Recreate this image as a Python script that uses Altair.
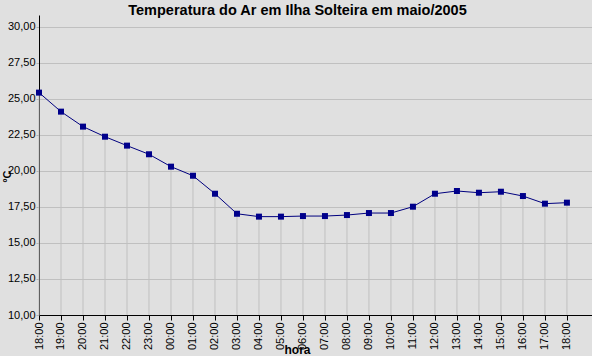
import altair as alt
import pandas as pd

hours = ["18:00", "19:00", "20:00", "21:00", "22:00", "23:00", "00:00", "01:00",
         "02:00", "03:00", "04:00", "05:00", "06:00", "07:00", "08:00", "09:00",
         "10:00", "11:00", "12:00", "13:00", "14:00", "15:00", "16:00", "17:00", "18:00"]
temps = [25.44, 24.12, 23.08, 22.38, 21.76, 21.16, 20.30, 19.67, 18.42, 17.03,
         16.83, 16.83, 16.87, 16.87, 16.94, 17.08, 17.08, 17.52, 18.42, 18.61,
         18.49, 18.56, 18.26, 17.73, 17.80]
y_ticks = [10, 12.5, 15, 17.5, 20, 22.5, 25, 27.5, 30]

df = pd.DataFrame({"i": list(range(len(hours))), "hora": hours, "temp": temps, "base": 10.0})

label_arr = "[" + ",".join("'" + h + "'" for h in hours) + "]"

FONT = "Liberation Sans"
x_scale = alt.Scale(domain=[0, 25.14], nice=False, zero=False)
y_scale = alt.Scale(domain=[10, 30.83], nice=False, zero=False)

x_axis = alt.Axis(values=list(range(len(hours))), labelExpr=label_arr + "[datum.value]",
                  labelAngle=270, labelAlign="right", labelBaseline="middle",
                  labelOverlap=False, labelBound=False, labelFlush=False,
                  labelFont=FONT, labelFontSize=11, labelColor="#000000", labelPadding=2,
                  tickColor="#000000", tickSize=5, domainColor="#000000", grid=False,
                  title="hora", titleFont=FONT, titleFontSize=12, titleFontWeight="bold",
                  titleColor="#000000", titleX=258, titleY=38, titleBaseline="alphabetic",
                  titleAnchor="start", titleAlign="center")
y_axis = alt.Axis(values=y_ticks, labelExpr="replace(format(datum.value, '.2f'), '.', ',')",
                  labelOverlap=False, labelBound=False, labelFlush=False,
                  labelFont=FONT, labelFontSize=11, labelColor="#000000", labelPadding=1,
                  tickColor="#b4b4b4", tickSize=3, domainColor="#000000",
                  grid=True, gridColor="#c0c0c0", gridWidth=1,
                  title="ºC", titleFont=FONT, titleFontSize=11, titleFontWeight="bold",
                  titleColor="#000000", titleAngle=270, titleX=-32, titleY=161,
                  titleAlign="center", titleBaseline="middle")

base = alt.Chart(df)

drops = base.mark_rule(color="#c0c0c0", strokeWidth=1).encode(
    x=alt.X("i:Q", scale=x_scale, axis=x_axis),
    y=alt.Y("base:Q", scale=y_scale, axis=y_axis),
    y2="temp:Q",
)
line = base.mark_line(color="#00007f", strokeWidth=1).encode(
    x=alt.X("i:Q", scale=x_scale, axis=x_axis),
    y=alt.Y("temp:Q", scale=y_scale, axis=y_axis),
)
pts = base.mark_square(color="#00008b", size=36, opacity=1).encode(
    x=alt.X("i:Q", scale=x_scale, axis=x_axis),
    y=alt.Y("temp:Q", scale=y_scale, axis=y_axis),
)

chart = alt.layer(drops, line, pts).properties(
    width=553, height=300,
    title=alt.TitleParams("Temperatura do Ar em Ilha Solteira em maio/2005",
                          font=FONT, fontSize=14.5, fontWeight="bold", color="#000000",
                          anchor="middle", dx=-18, offset=0, baseline="alphabetic", dy=14),
    autosize=alt.AutoSizeParams(type="none"),
    padding={"left": 39, "top": 15, "right": 0, "bottom": 41},
    background="#e0e0e0",
).configure_view(stroke=None, fill="#e0e0e0").configure_axis(domainWidth=1)

chart.save("out.html", embed_options={"renderer": "svg", "actions": False})
